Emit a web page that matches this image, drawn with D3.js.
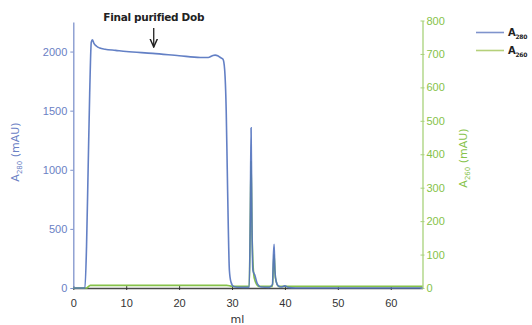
<!DOCTYPE html>
<html>
<head>
<meta charset="utf-8">
<script src="https://cdn.jsdelivr.net/npm/d3@7"></script>
<style>
  body { margin: 0; background: #fff; }
  svg { display: block; font-family: "DejaVu Sans", "Liberation Sans", sans-serif; }
</style>
</head>
<body>
<div id="chart"></div>
<script>
// chromatogram
const mlA280 = [0, 2.2, 2.5, 2.8, 3.1, 3.4, 3.6, 3.9, 4.4, 5, 6, 8, 10, 15, 20, 24, 25.5, 26.3, 26.8, 27.3, 27.8, 28.3, 28.6, 28.9, 29.1, 29.3, 29.5, 29.8, 30.3, 31, 32, 33.25, 33.45, 33.6, 33.75, 33.95, 34.3, 34.8, 35.5, 37, 37.65, 37.8, 37.95, 38.1, 38.35, 38.7, 39.3, 40, 40.6, 42, 66];
const A280   = [0, 0, 350, 1000, 1650, 2080, 2100, 2070, 2045, 2030, 2020, 2010, 2000, 1985, 1965, 1950, 1950, 1965, 1970, 1965, 1950, 1935, 1850, 1500, 1000, 500, 150, 50, 12, 6, 5, 5, 600, 1355, 600, 150, 110, 35, 8, 5, 30, 250, 370, 150, 55, 20, 8, 18, 5, 0, 0];

const mlA260 = [0, 2.5, 3.2, 29, 30, 33.25, 33.45, 33.6, 33.8, 34.2, 35, 37.65, 37.8, 37.95, 38.2, 38.8, 66];
const A260   = [0, 0, 8, 8, 5, 5, 200, 380, 150, 30, 5, 5, 60, 100, 30, 5, 5];

const xTicks = [0, 10, 20, 30, 40, 50, 60];
const leftTicks = [0, 500, 1000, 1500, 2000];
const rightTicks = [0, 100, 200, 300, 400, 500, 600, 700, 800];

const width = 532, height = 325;
const blue = "#5272bf", blueAxis = "#7f93cc", green = "#86c24a", greenAxis = "#a8d27a";

const svg = d3.select("#chart").append("svg")
  .attr("width", width).attr("height", height);

const x = d3.scaleLinear().domain([0, 66]).range([73.3, 422.5]);
const yL = d3.scaleLinear().domain([0, 2250]).range([288, 22]);
const yR = d3.scaleLinear().domain([0, 800]).range([288, 20.5]);

// bottom axis
const xAxis = svg.append("g")
  .attr("transform", "translate(0,288)")
  .call(d3.axisBottom(x).tickValues(xTicks).tickFormat(d3.format("d")).tickSize(3).tickSizeOuter(0));
xAxis.select(".domain").attr("stroke", "#4a4a4a").attr("stroke-width", 1.5);
xAxis.selectAll(".tick line").attr("stroke", "#333").attr("y1", -2).attr("y2", 2);
xAxis.selectAll("text").attr("fill", "#333").attr("font-size", 11).attr("dy", "1.2em");

// left axis
const lAxis = svg.append("g")
  .attr("transform", "translate(73.3,0)")
  .call(d3.axisLeft(yL).tickValues(leftTicks).tickFormat(d3.format("d")).tickSize(3).tickSizeOuter(0));
lAxis.select(".domain").attr("stroke", blueAxis).attr("stroke-width", 1.3);
lAxis.selectAll(".tick line").attr("stroke", blueAxis);
lAxis.selectAll("text").attr("fill", "#6a80c4").attr("font-size", 11).attr("x", -6);

// right axis
const rAxis = svg.append("g")
  .attr("transform", "translate(422.5,0)")
  .call(d3.axisRight(yR).tickValues(rightTicks).tickFormat(d3.format("d")).tickSize(3).tickSizeOuter(0));
rAxis.select(".domain").attr("stroke", greenAxis).attr("stroke-width", 1.3);
rAxis.selectAll(".tick line").attr("stroke", greenAxis).attr("x1", -2).attr("x2", 2);
rAxis.selectAll("text").attr("fill", green).attr("font-size", 11).attr("x", 4);

// traces
const lineR = d3.line().x((d, i) => x(mlA260[i])).y(d => yR(d)).curve(d3.curveMonotoneX);
const lineL = d3.line().x((d, i) => x(mlA280[i])).y(d => yL(d)).curve(d3.curveMonotoneX);

svg.append("path").datum(A260)
  .attr("d", lineR).attr("fill", "none")
  .attr("stroke", green).attr("stroke-width", 1.6);

svg.append("path").datum(A280)
  .attr("d", lineL).attr("fill", "none")
  .attr("stroke", blue).attr("stroke-width", 1.6).attr("stroke-opacity", 0.9);

// axis titles
const tl = svg.append("text")
  .attr("transform", "translate(19,152) rotate(-90)")
  .attr("text-anchor", "middle").attr("fill", "#6a80c4").attr("font-size", 11);
tl.append("tspan").text("A");
tl.append("tspan").attr("font-size", 7).attr("dy", 3).text("280");
tl.append("tspan").attr("dy", -3).text(" (mAU)");

const tr = svg.append("text")
  .attr("transform", "translate(467,158) rotate(-90)")
  .attr("text-anchor", "middle").attr("fill", green).attr("font-size", 11);
tr.append("tspan").text("A");
tr.append("tspan").attr("font-size", 7).attr("dy", 3).text("260");
tr.append("tspan").attr("dy", -3).text(" (mAU)");

svg.append("text")
  .attr("x", x(31)).attr("y", 323)
  .attr("text-anchor", "middle").attr("fill", "#333").attr("font-size", 11)
  .text("ml");

// annotation
svg.append("text")
  .attr("x", x(15.2)).attr("y", 21)
  .attr("text-anchor", "middle").attr("fill", "#222").attr("font-size", 10.5)
  .attr("font-weight", "bold").attr("letter-spacing", -0.3)
  .text("Final purified Dob");

svg.append("defs").append("marker")
  .attr("id", "arrow").attr("viewBox", "0 0 10 10")
  .attr("refX", 9).attr("refY", 5)
  .attr("markerWidth", 7).attr("markerHeight", 7)
  .attr("orient", "auto")
  .append("path").attr("d", "M0,1 L9,5 L0,9").attr("fill", "none")
  .attr("stroke", "#222").attr("stroke-width", 1.6);

svg.append("line")
  .attr("x1", x(15.2)).attr("x2", x(15.2))
  .attr("y1", 28).attr("y2", 47)
  .attr("stroke", "#222").attr("stroke-width", 1.3)
  .attr("marker-end", "url(#arrow)");

// legend
const legend = [
  { name: "280", color: blueAxis, y: 32.5 },
  { name: "260", color: "#b5d07a", y: 50.5 }
];
const lg = svg.append("g");
legend.forEach(d => {
  lg.append("line").attr("x1", 476).attr("x2", 504)
    .attr("y1", d.y).attr("y2", d.y)
    .attr("stroke", d.color).attr("stroke-width", 1.6);
  const t = lg.append("text").attr("x", 508).attr("y", d.y + 3)
    .attr("fill", "#222").attr("font-size", 10).attr("font-weight", "bold")
    .attr("letter-spacing", -0.3);
  t.append("tspan").text("A");
  t.append("tspan").attr("font-size", 6).attr("dy", 3).text(d.name);
});
</script>
</body>
</html>
